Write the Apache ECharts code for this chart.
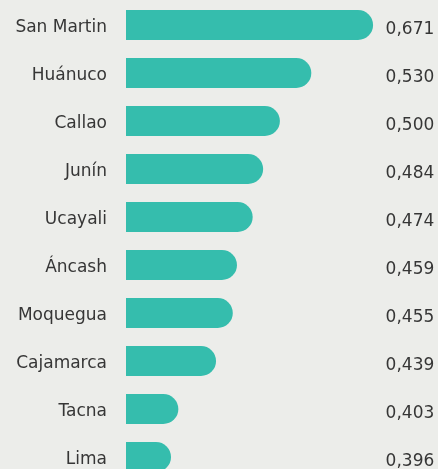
<!DOCTYPE html>
<html><head><meta charset="utf-8">
<script src="https://cdn.jsdelivr.net/npm/echarts@6/dist/echarts.min.js"></script>
<style>html,body{margin:0;padding:0;background:#ecedea}#c{width:438px;height:469px}</style>
</head><body><div id="c"></div>
<script>
const categories = ["San Martin","Huánuco","Callao","Junín","Ucayali","Áncash","Moquegua","Cajamarca","Tacna","Lima"];
const values = [0.671,0.530,0.500,0.484,0.474,0.459,0.455,0.439,0.403,0.396];
const axisMin = 0.353;
const axisMax = 0.6;
const barCap = 0.589; // longest bar is drawn shortened in the original
const valueLabels = values.map(v => v.toFixed(3).replace('.', ','));

const chart = echarts.init(document.getElementById('c'), null, {renderer:'canvas'});
const font = 'DejaVu Sans';
chart.setOption({
  backgroundColor:'#ecedea',
  animation:false,
  grid:{left:126, top:1, bottom:-12, width:258.6, outerBoundsMode:'none', containLabel:false},
  xAxis:{type:'value', min:axisMin, max:axisMax, show:false},
  yAxis:[
    {type:'category', data:categories, inverse:true, axisLine:{show:false}, axisTick:{show:false},
     axisLabel:{margin:19, fontSize:17, color:'#363636', fontFamily:font, verticalAlign:'top', lineHeight:6}},
    {type:'category', data:valueLabels, inverse:true, position:'right', axisLine:{show:false}, axisTick:{show:false},
     axisLabel:{margin:1, fontSize:17, color:'#363636', fontFamily:font, verticalAlign:'top', lineHeight:10}}
  ],
  series:[{type:'bar', data:values.map(v=>Math.min(v,barCap)), barWidth:30,
    itemStyle:{color:'#35bdad', borderRadius:[0,15,15,0]}}]
});
</script></body></html>
